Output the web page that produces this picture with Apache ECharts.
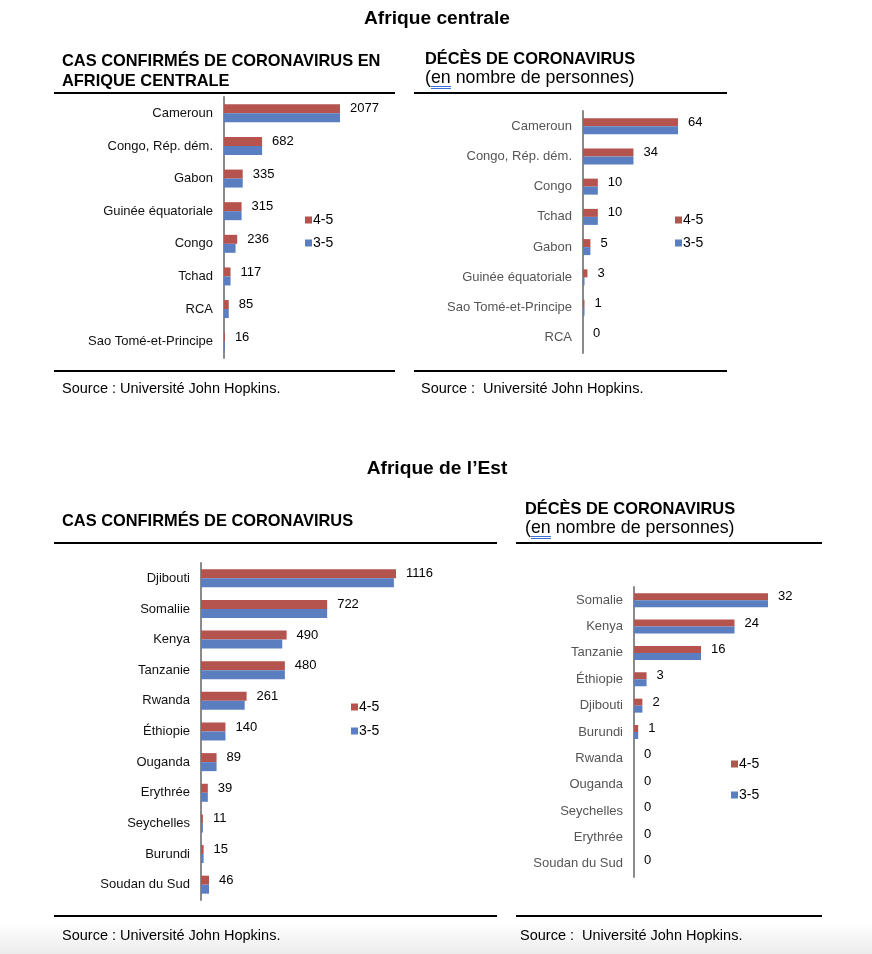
<!DOCTYPE html>
<html>
<head>
<meta charset="utf-8">
<script src="https://cdn.jsdelivr.net/npm/echarts@6/dist/echarts.min.js"></script>
<style>
html,body{margin:0;padding:0;background:#fff;}
#c{width:872px;height:954px;}
</style>
</head>
<body>
<div id="c"></div>
<script>
// ---- data ----
var centralCasesCountries = ['Cameroun','Congo, Rép. dém.','Gabon','Guinée équatoriale','Congo','Tchad','RCA','Sao Tomé-et-Principe'];
var centralCases45 = [2077,682,335,315,236,117,85,16];
var centralCases35 = [2077,682,335,315,207,117,85,16];

var centralDeathsCountries = ['Cameroun','Congo, Rép. dém.','Congo','Tchad','Gabon','Guinée équatoriale','Sao Tomé-et-Principe','RCA'];
var centralDeaths45 = [64,34,10,10,5,3,1,0];
var centralDeaths35 = [64,34,10,10,5,1,1,0];

var eastCasesCountries = ['Djibouti','Somaliie','Kenya','Tanzanie','Rwanda','Éthiopie','Ouganda','Erythrée','Seychelles','Burundi','Soudan du Sud'];
var eastCases45 = [1116,722,490,480,261,140,89,39,11,15,46];
var eastCases35 = [1104,722,465,480,250,140,89,39,11,15,46];

var eastDeathsCountries = ['Somalie','Kenya','Tanzanie','Éthiopie','Djibouti','Burundi','Rwanda','Ouganda','Seychelles','Erythrée','Soudan du Sud'];
var eastDeaths45 = [32,24,16,3,2,1,0,0,0,0,0];
var eastDeaths35 = [32,24,16,3,2,1,0,0,0,0,0];

var seriesNames = ['4-5','3-5'];

// ---- styles ----
var FF = '"Liberation Sans", Arial, Helvetica, sans-serif';
var RED = '#B5534F';
var BLUE = '#5A7EBF';

var chart = echarts.init(document.getElementById('c'), null, {renderer:'canvas'});

function txt(x, y, s, font, align, color){
  return {type:'text', x:x, y:y, silent:true,
    style:{text:s, font:font, fill:color||'#000', textAlign:align||'left', textVerticalAlign:'middle', align:align||'left', verticalAlign:'middle'}};
}
function hline(x1, x2, y){
  return {type:'line', silent:true, shape:{x1:x1,y1:y,x2:x2,y2:y}, style:{stroke:'#000', lineWidth:2}};
}

var panels = [
  {cats:centralCasesCountries, a:centralCases45, b:centralCases35, grid:{left:224, top:97, width:116, height:261}, bw:9, labelColor:'#111', leg:{left:305, top:213, gap:9}},
  {cats:centralDeathsCountries, a:centralDeaths45, b:centralDeaths35, grid:{left:583, top:111, width:95, height:242}, bw:8, labelColor:'#555', leg:{left:675, top:213, gap:9}},
  {cats:eastCasesCountries, a:eastCases45, b:eastCases35, grid:{left:201, top:563, width:195, height:337}, bw:9, labelColor:'#111', leg:{left:351, top:700, gap:10}},
  {cats:eastDeathsCountries, a:eastDeaths45, b:eastDeaths35, grid:{left:634, top:587, width:134, height:290}, bw:7, labelColor:'#555', leg:{left:731, top:757, gap:17}}
];

var grids = [], xAxes = [], yAxes = [], series = [], legends = [];
panels.forEach(function(p, i){
  grids.push({left:p.grid.left, top:p.grid.top, width:p.grid.width, height:p.grid.height, containLabel:false});
  xAxes.push({gridIndex:i, type:'value', min:0, max:Math.max.apply(null, p.a.concat(p.b)), show:false});
  yAxes.push({gridIndex:i, type:'category', inverse:true, data:p.cats,
    axisLine:{show:true, lineStyle:{color:'#8a8a8a', width:2}},
    axisTick:{show:false},
    axisLabel:{color:p.labelColor, fontSize:13, fontFamily:FF, margin:11}});
  series.push({name:seriesNames[0], type:'bar', xAxisIndex:i, yAxisIndex:i, data:p.a, barWidth:p.bw, barGap:'0%',
    itemStyle:{color:RED}, animation:false,
    label:{show:true, position:'right', distance:10, color:'#000', fontSize:13, fontFamily:FF}});
  series.push({name:seriesNames[1], type:'bar', xAxisIndex:i, yAxisIndex:i, data:p.b, barWidth:p.bw, barGap:'0%',
    itemStyle:{color:BLUE}, animation:false});
  legends.push({data:seriesNames, orient:'vertical', left:p.leg.left, top:p.leg.top, itemWidth:7, itemHeight:7, icon:'rect',
    itemGap:p.leg.gap, selectedMode:false, padding:0,
    textStyle:{fontSize:14, color:'#000', fontFamily:FF, lineHeight:14, padding:[0,0,0,-4]}});
});

var TB = 'bold 16.4px ' + FF;
var SUB = '17.8px ' + FF;
var SRC = '14.5px ' + FF;
var MAIN = 'bold 19.2px ' + FF;

var graphics = [
  {type:'rect', silent:true, shape:{x:0, y:922, width:872, height:32},
    style:{fill:new echarts.graphic.LinearGradient(0,0,0,1,[{offset:0,color:'#ffffff'},{offset:1,color:'#ececec'}])}, z:-10},
  txt(437, 19, 'Afrique centrale', MAIN, 'center'),
  txt(62, 61, 'CAS CONFIRMÉS DE CORONAVIRUS EN', TB),
  txt(62, 81, 'AFRIQUE CENTRALE', TB),
  hline(54, 395, 93),
  hline(54, 395, 371),
  txt(62, 389, 'Source : Université John Hopkins.', SRC),
  txt(425, 59, 'DÉCÈS DE CORONAVIRUS', TB),
  txt(425, 78, '(en nombre de personnes)', SUB),
  {type:'line', silent:true, shape:{x1:431,y1:86.5,x2:451,y2:86.5}, style:{stroke:'#3b6fd6', lineWidth:1}},
  {type:'line', silent:true, shape:{x1:431,y1:88.5,x2:451,y2:88.5}, style:{stroke:'#3b6fd6', lineWidth:1}},
  hline(414, 727, 93),
  hline(414, 727, 371),
  txt(421, 389, 'Source :  Université John Hopkins.', SRC),

  txt(437, 469, 'Afrique de l’Est', MAIN, 'center'),
  txt(62, 521, 'CAS CONFIRMÉS DE CORONAVIRUS', TB),
  hline(54, 497, 543),
  hline(54, 497, 916),
  txt(62, 936, 'Source : Université John Hopkins.', SRC),
  txt(525, 509, 'DÉCÈS DE CORONAVIRUS', TB),
  txt(525, 528, '(en nombre de personnes)', SUB),
  {type:'line', silent:true, shape:{x1:531,y1:536.5,x2:551,y2:536.5}, style:{stroke:'#3b6fd6', lineWidth:1}},
  {type:'line', silent:true, shape:{x1:531,y1:538.5,x2:551,y2:538.5}, style:{stroke:'#3b6fd6', lineWidth:1}},
  hline(516, 822, 543),
  hline(516, 822, 916),
  txt(520, 936, 'Source :  Université John Hopkins.', SRC)
];

chart.setOption({
  backgroundColor:'#ffffff',
  animation:false,
  textStyle:{fontFamily:FF},
  grid:grids, xAxis:xAxes, yAxis:yAxes, series:series, legend:legends,
  graphic:{elements:graphics}
});
</script>
</body>
</html>
